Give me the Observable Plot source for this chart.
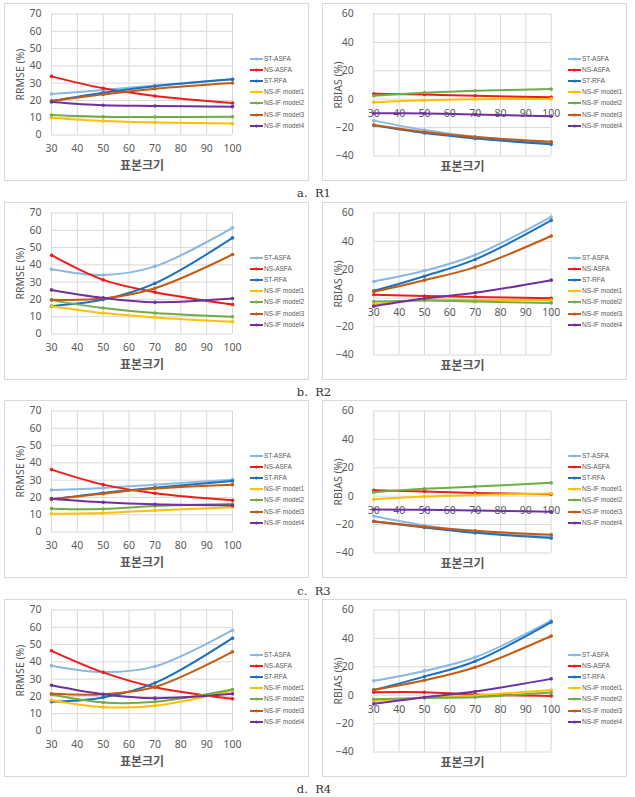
<!DOCTYPE html>
<html><head><meta charset="utf-8">
<script src="https://cdn.jsdelivr.net/npm/d3@7"></script>
<script src="https://cdn.jsdelivr.net/npm/@observablehq/plot@0.6"></script>
<style>
body{margin:0;background:#fff;}
#wrap{position:relative;width:635px;height:797px;overflow:hidden;background:#fff;}
.panel{position:absolute;width:305px;height:178px;outline:1px solid #d9d9d9;outline-offset:-1px;background:#fff;}
.panel svg{position:absolute;left:0;top:0;}
.legend{position:absolute;left:246px;font-family:"Liberation Sans",Arial,sans-serif;font-size:6.5px;color:#595959;}
.legend .item{position:absolute;left:0;height:8px;white-space:nowrap;}
.legend svg{position:absolute;left:0;top:0;}
.legend span{position:absolute;left:14px;top:0;line-height:8px;}
.cap{position:absolute;left:264px;width:100px;text-align:center;font-family:"DejaVu Serif","Liberation Serif",serif;font-size:11.5px;color:#333;white-space:pre;line-height:14px;}
</style></head>
<body><div id="wrap"></div>
<script>
const sizes = [30, 50, 70, 100];
const seriesNames = ["ST-ASFA", "NS-ASFA", "ST-RFA", "NS-IF model1", "NS-IF model2", "NS-IF model3", "NS-IF model4"];
const seriesColors = ["#8AB8E2", "#EE1C1C", "#1B70BF", "#FFC000", "#70AD47", "#C55A11", "#7030A0"];
const xTicks = [30, 40, 50, 60, 70, 80, 90, 100];
const rrmseTicks = [0, 10, 20, 30, 40, 50, 60, 70];
const rbiasTicks = [-40, -20, 0, 20, 40, 60];
const captions = ["a.  R1", "b.  R2", "c.  R3", "d.  R4"];

// series order: ST-ASFA, NS-ASFA, ST-RFA, model1, model2, model3, model4
const r1Rrmse = [[23.7, 26.0, 28.7, 32.2], [33.9, 27.0, 22.6, 18.5], [19.7, 24.5, 28.2, 32.2], [10.0, 8.1, 7.3, 6.6], [11.6, 10.6, 10.4, 10.6], [19.7, 23.5, 26.8, 30.1], [19.1, 17.2, 16.8, 16.4]];
const r1Rbias = [[-15.1, -21.7, -26.4, -30.7], [3.8, 3.3, 2.4, 1.4], [-18.4, -23.8, -27.6, -31.8], [-2.1, -0.7, 0.0, 0.2], [2.4, 4.5, 5.9, 7.1], [-18.2, -23.1, -26.7, -30.0], [-9.9, -10.1, -10.8, -12.0]];
const r2Rrmse = [[37.4, 34.1, 39.1, 61.4], [45.6, 31.3, 24.2, 17.1], [16.1, 19.9, 29.3, 55.6], [16.1, 12.1, 9.6, 7.1], [19.6, 15.0, 12.1, 10.0], [19.8, 20.5, 26.5, 46.0], [25.5, 20.9, 18.4, 20.5]];
const r2Rbias = [[11.8, 19.3, 30.4, 57.2], [2.4, 1.6, 0.9, 0.0], [5.2, 15.5, 27.3, 54.8], [-4.2, -1.2, -1.2, -1.4], [-2.4, -1.6, -2.4, -3.3], [4.5, 12.7, 21.9, 43.8], [-5.6, -0.2, 3.8, 12.7]];
const r3Rrmse = [[24.3, 25.5, 27.4, 30.3], [36.1, 27.4, 22.4, 18.3], [18.9, 22.6, 25.6, 29.5], [10.6, 11.0, 12.5, 14.3], [13.5, 13.3, 15.0, 16.2], [18.9, 22.2, 25.1, 27.4], [19.3, 17.2, 16.0, 15.4]];
const r3Rbias = [[-14.0, -20.6, -24.8, -28.8], [4.2, 3.3, 2.3, 1.4], [-17.8, -22.0, -25.8, -29.5], [-2.1, -0.2, 0.9, 1.9], [2.8, 5.2, 6.8, 9.4], [-17.6, -21.5, -24.4, -27.2], [-9.4, -9.6, -10.1, -11.0]];
const r4Rrmse = [[37.8, 34.1, 37.4, 58.3], [46.4, 33.9, 25.3, 18.6], [16.9, 19.4, 27.8, 53.7], [17.8, 13.8, 14.6, 23.4], [21.1, 16.5, 16.9, 24.0], [21.5, 21.3, 25.5, 45.8], [26.5, 21.3, 19.0, 21.5]];
const r4Rbias = [[10.1, 17.1, 26.7, 52.5], [2.1, 2.1, 0.5, -0.5], [3.7, 13.1, 23.9, 51.5], [-4.0, -1.6, -0.2, 3.7], [-2.8, -1.9, -1.4, 1.9], [3.7, 10.5, 19.7, 41.7], [-6.1, -1.4, 2.6, 11.5]];

const rrmseSets = [r1Rrmse, r2Rrmse, r3Rrmse, r4Rrmse];
const rbiasSets = [r1Rbias, r2Rbias, r3Rbias, r4Rbias];

const rowTops = [3, 202, 400, 599];
const capCenters = [192.5, 392, 590.7, 789];

function makePlot(values, isRrmse) {
  const data = values.flatMap((vals, i) => vals.map((v, j) => ({series: seriesNames[i], size: sizes[j], value: v})));
  const yTicks = isRrmse ? rrmseTicks : rbiasTicks;
  const sans = "'Noto Sans', 'Open Sans', sans-serif";
  return Plot.plot({
    width: 305, height: 178,
    marginLeft: isRrmse ? 47 : 51.3,
    marginRight: isRrmse ? 77 : 76.3,
    marginTop: 10.5,
    marginBottom: isRrmse ? 46.5 : 25.5,
    x: {domain: [30, 100], axis: null},
    y: {domain: isRrmse ? [0, 70] : [-40, 60]},
    color: {domain: seriesNames, range: seriesColors},
    style: {fontFamily: sans, fontSize: "10.5px", color: "#595959", background: "transparent", overflow: "visible"},
    marks: [
      Plot.gridX(xTicks, {stroke: "#d9d9d9", strokeOpacity: 1}),
      Plot.gridY(yTicks, {stroke: "#d9d9d9", strokeOpacity: 1}),
      Plot.axisY(yTicks, {tickSize: 0, tickPadding: isRrmse ? 10 : 20, label: null, fontSize: 10.5, fill: "#595959"}),
      Plot.text(xTicks, {x: d => d, y: () => 0, dy: 14, text: d => String(d), fill: "#595959", fontSize: 10.5, fontFamily: sans, lineAnchor: "middle", textAnchor: "middle"}),
      Plot.text([isRrmse ? "RRMSE (%)" : "RBIAS (%)"], {frameAnchor: "left", rotate: -90, dx: isRrmse ? -31 : -35, text: d => d, fill: "#595959", fontSize: 10.5, fontFamily: sans, textAnchor: "middle", lineAnchor: "middle"}),
      Plot.text(["표본크기"], {frameAnchor: "bottom", dy: isRrmse ? 31 : 11, text: d => d, fill: "#595959", fontSize: 12, fontWeight: "bold", fontFamily: "'Noto Sans CJK KR', sans-serif", textAnchor: "middle", lineAnchor: "middle"}),
      Plot.line(data, {x: "size", y: "value", z: "series", stroke: "series", strokeWidth: 2, curve: "catmull-rom"}),
      Plot.dot(data, {x: "size", y: "value", fill: "series", r: 1.8})
    ]
  });
}

function makeLegend() {
  const lg = d3.create("div").attr("class", "legend").style("top", "52px");
  seriesNames.forEach((name, i) => {
    const it = lg.append("div").attr("class", "item").style("top", (i * 11.1) + "px");
    const sv = it.append("svg").attr("width", 14).attr("height", 8);
    sv.append("line").attr("x1", 0).attr("x2", 13).attr("y1", 4).attr("y2", 4).attr("stroke", seriesColors[i]).attr("stroke-width", 2);
    sv.append("circle").attr("cx", 6.5).attr("cy", 4).attr("r", 1.6).attr("fill", seriesColors[i]);
    it.append("span").text(name);
  });
  return lg.node();
}

const wrap = document.getElementById("wrap");
rowTops.forEach((top, r) => {
  [[4, rrmseSets[r], true], [322, rbiasSets[r], false]].forEach(([left, vals, isR]) => {
    const p = document.createElement("div");
    p.className = "panel";
    p.style.left = left + "px";
    p.style.top = top + "px";
    p.appendChild(makePlot(vals, isR));
    p.appendChild(makeLegend());
    wrap.appendChild(p);
  });
  const c = document.createElement("div");
  c.className = "cap";
  c.style.top = (capCenters[r] - 7) + "px";
  c.textContent = captions[r];
  wrap.appendChild(c);
});
</script>
</body></html>
